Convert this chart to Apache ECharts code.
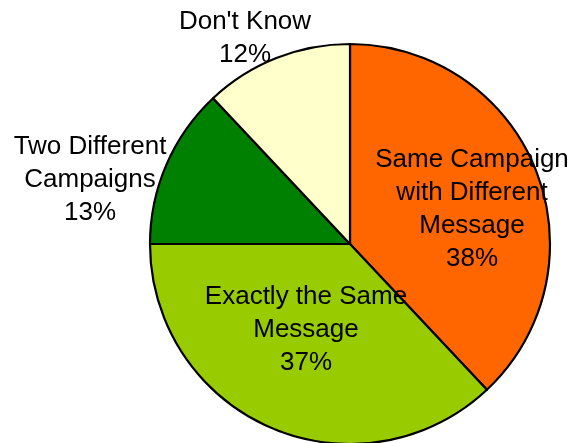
<!DOCTYPE html>
<html>
<head>
<meta charset="utf-8">
<style>
  html, body { margin: 0; padding: 0; background: #fff; }
  #chart { width: 570px; height: 443px; }
</style>
<script src="https://cdn.jsdelivr.net/npm/echarts@6/dist/echarts.min.js"></script>
</head>
<body>
<div id="chart"></div>
<script>
// Survey answers, clockwise from 12 o'clock
const categories = [
  'Same Campaign\nwith Different\nMessage',
  'Exactly the Same\nMessage',
  'Two Different\nCampaigns',
  "Don't Know"
];
const shares = [38, 37, 13, 12];
const sliceColors = ['#FF6600', '#99CC00', '#008000', '#FFFFCC'];

// Centre of each label block on the canvas
const labelCenters = [[472, 209], [306, 330], [90, 180], [245, 38]];

const chart = echarts.init(document.getElementById('chart'), null, { renderer: 'canvas' });

chart.setOption({
  animation: false,
  backgroundColor: '#ffffff',
  series: [{
    type: 'pie',
    center: [350, 244],
    radius: 200,
    startAngle: 90,
    clockwise: true,
    avoidLabelOverlap: false,
    silent: true,
    data: categories.map((name, i) => ({
      name: name,
      value: shares[i],
      itemStyle: { color: sliceColors[i] }
    })),
    itemStyle: { borderColor: '#000000', borderWidth: 2.2 },
    label: {
      show: true,
      position: 'inside',
      formatter: '{b}\n{c}%',
      fontFamily: 'Liberation Sans, Arial, sans-serif',
      fontSize: 26,
      lineHeight: 33,
      color: '#000000',
      align: 'center'
    },
    labelLine: { show: false },
    labelLayout: function (params) {
      const p = labelCenters[params.dataIndex];
      return { x: p[0], y: p[1], align: 'center', verticalAlign: 'middle' };
    }
  }]
});
</script>
</body>
</html>
